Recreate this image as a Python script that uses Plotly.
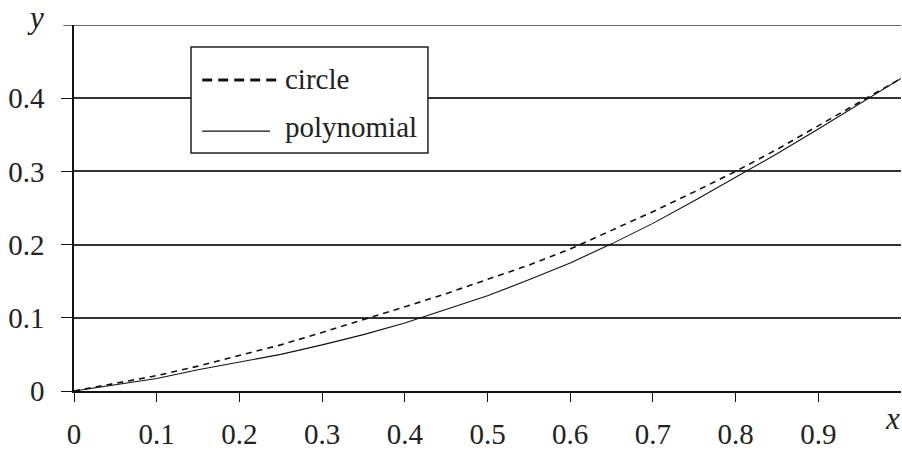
import plotly.graph_objects as go

x_vals = [0, 0.05, 0.1, 0.15, 0.2, 0.25, 0.3, 0.35, 0.4, 0.45, 0.5,
          0.55, 0.6, 0.65, 0.7, 0.75, 0.8, 0.85, 0.9, 0.95, 1.0]
circle_y = [0, 0.010, 0.021, 0.034, 0.048, 0.063, 0.080, 0.097, 0.115, 0.133, 0.152,
            0.172, 0.194, 0.219, 0.245, 0.272, 0.300, 0.330, 0.362, 0.394, 0.427]
poly_y = [0, 0.008, 0.017, 0.029, 0.040, 0.050, 0.063, 0.077, 0.093, 0.111, 0.130,
          0.152, 0.175, 0.201, 0.229, 0.260, 0.292, 0.324, 0.358, 0.392, 0.427]

x_ticks = [0, 0.1, 0.2, 0.3, 0.4, 0.5, 0.6, 0.7, 0.8, 0.9]
x_tick_text = ["0", "0.1", "0.2", "0.3", "0.4", "0.5", "0.6", "0.7", "0.8", "0.9"]
y_ticks = [0, 0.1, 0.2, 0.3, 0.4]
y_tick_text = ["0", "0.1", "0.2", "0.3", "0.4"]
series_names = ["circle", "polynomial"]

FONT = "Liberation Serif"

fig = go.Figure()
fig.add_trace(go.Scatter(x=x_vals, y=circle_y, mode="lines", name=series_names[0],
                         line=dict(color="#111", width=1.6, dash="6px,5px"),
                         showlegend=False))
fig.add_trace(go.Scatter(x=x_vals, y=poly_y, mode="lines", name=series_names[1],
                         line=dict(color="#111", width=1.1),
                         showlegend=False))

# top grid line at 0.5
fig.add_shape(type="line", xref="paper", yref="y", x0=0, x1=1, y0=0.5, y1=0.5,
              line=dict(color="#333", width=1.5), layer="between")
fig.add_shape(type="line", xref="paper", yref="y", x0=-0.013, x1=0, y0=0.5, y1=0.5,
              line=dict(color="#111", width=1.3))

# manual legend box
fig.add_shape(type="rect", xref="x", yref="y", x0=0.1415, x1=0.428, y0=0.325, y1=0.470,
              line=dict(color="#222", width=1.5), fillcolor="white", layer="between")
fig.add_shape(type="line", xref="x", yref="y", x0=0.155, x1=0.247, y0=0.425, y1=0.425,
              line=dict(color="#111", width=3, dash="10px,6px"))
fig.add_shape(type="line", xref="x", yref="y", x0=0.155, x1=0.237, y0=0.355, y1=0.355,
              line=dict(color="#111", width=1.2))
fig.add_annotation(x=0.253, y=0.426, xref="x", yref="y", text=series_names[0],
                   showarrow=False, xanchor="left", yanchor="middle",
                   font=dict(family=FONT, size=29, color="#222"))
fig.add_annotation(x=0.253, y=0.361, xref="x", yref="y", text=series_names[1],
                   showarrow=False, xanchor="left", yanchor="middle",
                   font=dict(family=FONT, size=29, color="#222"))

# axis letters
fig.add_annotation(x=-0.047, y=1.02, xref="paper", yref="paper", text="<i>y</i>",
                   showarrow=False, xanchor="center", yanchor="middle",
                   font=dict(family=FONT, size=31, color="#222"))
fig.add_annotation(x=0.99, y=-0.075, xref="paper", yref="paper", text="<i>x</i>",
                   showarrow=False, xanchor="center", yanchor="middle",
                   font=dict(family=FONT, size=31, color="#222"))

fig.update_layout(
    width=902, height=450,
    margin=dict(l=74, r=1, t=25, b=59, autoexpand=False),
    paper_bgcolor="white", plot_bgcolor="white",
    font=dict(family=FONT, size=29, color="#222"),
    xaxis=dict(range=[0, 1], tickvals=x_ticks, ticktext=x_tick_text,
               showgrid=False, zeroline=False, automargin=False,
               showline=True, linecolor="#111", linewidth=1.5,
               ticks="outside", ticklen=9, tickwidth=1.3, tickcolor="#111",
               ticklabelstandoff=7,
               tickfont=dict(family=FONT, size=29, color="#222")),
    yaxis=dict(range=[0, 0.5], tickvals=y_ticks, ticktext=y_tick_text,
               showgrid=True, gridcolor="#333", gridwidth=1.5, zeroline=False,
               automargin=False,
               showline=True, linecolor="#111", linewidth=1.5,
               ticks="outside", ticklen=11, tickwidth=1.3, tickcolor="#111",
               ticklabelstandoff=11,
               tickfont=dict(family=FONT, size=29, color="#222")),
)

fig.write_html("out.html", config={"displayModeBar": False},
               post_script="document.body.style.margin='0';document.body.style.overflow='hidden';")
